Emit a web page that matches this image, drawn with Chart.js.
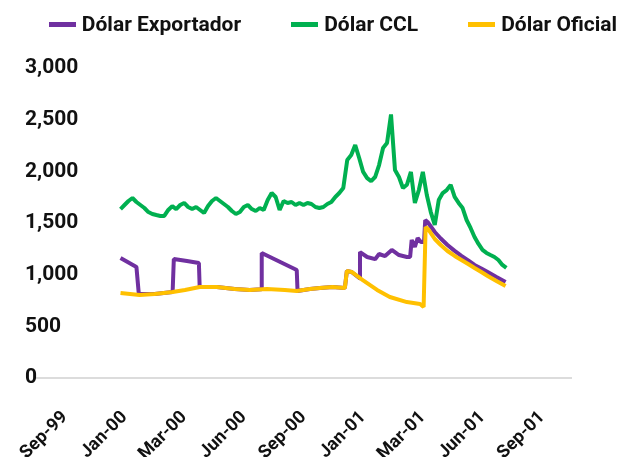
<!DOCTYPE html>
<html>
<head>
<meta charset="utf-8">
<script src="https://cdn.jsdelivr.net/npm/chart.js@4.4.0/dist/chart.umd.min.js"></script>
<style>
    html, body { margin: 0; padding: 0; background: #fff; }
    #wrap { position: relative; width: 620px; height: 457px; }
    #legend {
        position: absolute; top: 2px; left: 0; right: 3px; height: 44px;
        display: flex; justify-content: flex-end; align-items: center; gap: 50px;
        font: bold 21px Roboto, sans-serif; color: #111;
    }
    #legend .item { display: flex; align-items: center; }
    #legend .box { width: 27px; height: 5px; margin-right: 6px; }
</style>
</head>
<body>
<div id="wrap">
    <div id="legend"></div>
    <canvas id="dolarChart" width="620" height="457"></canvas>
</div>
<script>
var tickLabels = ["Sep-99", "Jan-00", "Mar-00", "Jun-00", "Sep-00", "Jan-01", "Mar-01", "Jun-01", "Sep-01"];
var tickStep = 15;

// CCL: one value per step, starting at step 14
var cclStart = 14;
var cclValues = [
    1635, 1674, 1713, 1742, 1703, 1674, 1645, 1606, 1587, 1577,
    1568, 1568, 1626, 1664, 1635, 1674, 1694, 1655, 1635, 1655,
    1626, 1597, 1664, 1713, 1742, 1713, 1684, 1655, 1616, 1587,
    1606, 1655, 1674, 1635, 1616, 1645, 1626, 1722, 1790, 1752,
    1626, 1713, 1694, 1703, 1674, 1694, 1674, 1694, 1684, 1655,
    1645, 1655, 1684, 1703, 1752, 1790, 1839, 2110, 2158, 2255,
    2129, 1994, 1935, 1906, 1945, 2061, 2226, 2274, 2550, 2013,
    1945, 1839, 1870, 1994, 1694, 1819, 1994, 1771, 1606, 1481,
    1722, 1790, 1819, 1868, 1752, 1694, 1645, 1529, 1452, 1365,
    1297, 1239, 1210, 1190, 1171, 1142, 1094, 1065
];

// [step, value]
var exportadorPoints = [
    [14, 1161], [18, 1074], [18.6, 813], [22.6, 813], [27.1, 832],
    [27.4, 1152], [30.7, 1132], [33.7, 1113], [33.9, 881], [38.2, 881],
    [42.7, 861], [46.5, 852], [49.4, 858], [49.5, 1210], [58.3, 1045],
    [58.5, 842], [61.6, 861], [64.1, 871], [67.3, 881], [70.4, 871],
    [70.9, 1035], [72.1, 1026], [74.1, 965], [74.2, 1219], [76, 1171],
    [78, 1150], [79, 1200], [80.5, 1180], [82.2, 1239], [84, 1190],
    [86, 1171], [86.8, 1171], [87.2, 1335], [88, 1268], [88.7, 1355],
    [89.5, 1316], [90.3, 1316], [90.6, 1529], [91.2, 1510], [93, 1413],
    [94.5, 1350], [96.2, 1287], [98, 1230], [99.7, 1181], [101.4, 1138],
    [103, 1094], [104.7, 1060], [106.3, 1026], [108.5, 978], [110.8, 929]
];

var oficialPoints = [
    [14, 823], [18.8, 803], [22.6, 813], [27.1, 832], [30.2, 852],
    [33.9, 881], [38.2, 881], [42.7, 861], [46.5, 852], [50.8, 861],
    [55.3, 852], [58.3, 842], [61.6, 861], [64.1, 871], [67.3, 881],
    [70.4, 871], [70.9, 1035], [72.1, 1026], [74.9, 948], [78.5, 852],
    [81.7, 784], [86, 735], [89.3, 716], [90.2, 687], [90.7, 1461],
    [91.5, 1432], [93, 1345], [94.5, 1287], [96.2, 1229], [98, 1181],
    [99.7, 1142], [101.4, 1103], [103, 1065], [104.7, 1026], [106.3, 987],
    [108.5, 939], [110.8, 890]
];

function toXY(points) {
    return points.map(function (p) { return {x: p[0], y: p[1]}; });
}

var cclData = cclValues.map(function (v, i) { return {x: cclStart + i, y: v}; });

var datasets = [
    {label: "Dólar Exportador", data: toXY(exportadorPoints), borderColor: "#7030a0", backgroundColor: "#7030a0", order: 2},
    {label: "Dólar CCL", data: cclData, borderColor: "#00b050", backgroundColor: "#00b050", order: 0},
    {label: "Dólar Oficial", data: toXY(oficialPoints), borderColor: "#ffc000", backgroundColor: "#ffc000", order: 1}
];
datasets.forEach(function (ds) {
    ds.borderWidth = 4;
    ds.borderJoinStyle = 'bevel';
    ds.pointRadius = 0;
    ds.fill = false;
    ds.tension = 0;
});

// html legend
var legendEl = document.getElementById("legend");
datasets.forEach(function (ds) {
    var item = document.createElement("div");
    item.className = "item";
    var box = document.createElement("span");
    box.className = "box";
    box.style.background = ds.borderColor;
    var txt = document.createElement("span");
    txt.textContent = ds.label;
    item.appendChild(box);
    item.appendChild(txt);
    legendEl.appendChild(item);
});

var chartElem = document.getElementById("dolarChart");
var dolarChart = new Chart(chartElem, {
    type: 'line',
    data: {datasets: datasets},
    options: {
        responsive: false,
        animation: false,
        locale: 'en-US',
        layout: {padding: {top: 68, left: 25, right: 48, bottom: 0}},
        plugins: {
            legend: {display: false},
            tooltip: {enabled: false}
        },
        scales: {
            x: {
                type: 'linear',
                min: -7.5,
                max: 127.5,
                afterBuildTicks: function (scale) {
                    scale.ticks = tickLabels.map(function (l, i) { return {value: i * tickStep}; });
                },
                afterFit: function (scale) { scale.height = 79; },
                grid: {display: false},
                border: {display: false},
                ticks: {
                    autoSkip: false,
                    minRotation: 45,
                    maxRotation: 45,
                    padding: 21,
                    color: '#111',
                    font: {family: 'Roboto', weight: 'bold', size: 18},
                    callback: function (value) { return tickLabels[Math.round(value / tickStep)]; }
                }
            },
            y: {
                min: 0,
                max: 3000,
                afterFit: function (scale) { scale.width = 10; },
                grid: {
                    drawTicks: false,
                    lineWidth: 2,
                    color: function (ctx) { return ctx.tick && ctx.tick.value === 0 ? '#dcdcdc' : 'rgba(0,0,0,0)'; }
                },
                border: {display: false},
                ticks: {
                    stepSize: 500,
                    mirror: true,
                    padding: -10,
                    color: '#111',
                    font: {family: 'Roboto', weight: 'bold', size: 21}
                }
            }
        }
    }
});
</script>
</body>
</html>
